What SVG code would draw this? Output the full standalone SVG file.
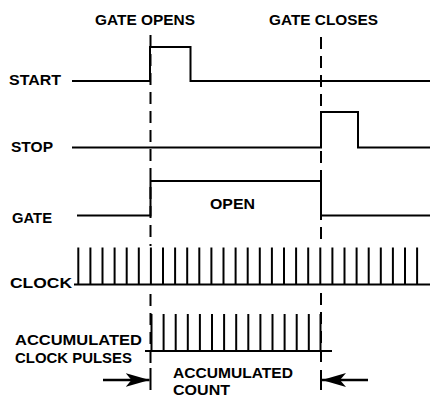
<svg xmlns="http://www.w3.org/2000/svg" width="430" height="399" viewBox="0 0 430 399">
<style>
  .t { font-family: "Liberation Sans", Arial, sans-serif; font-weight: bold; font-size: 15px; fill: #000; }
  .sig { fill: none; stroke: #000; stroke-width: 2; stroke-linejoin: miter; }
  .dash { fill: none; stroke: #000; stroke-width: 2; stroke-dasharray: 12 7; }
  .solid { fill: none; stroke: #000; stroke-width: 2; }
  .arr { fill: none; stroke: #000; stroke-width: 2.5; marker-end: url(#ah); }
</style>
<defs>
  <marker id="ah" viewBox="0 0 24 14" refX="24" refY="7" markerWidth="24" markerHeight="14" markerUnits="userSpaceOnUse" orient="auto">
    <path d="M0,0 L24,7 L0,14 L6,7 Z" fill="#000"/>
  </marker>
  <path id="tick" d="M0,0 V-37" stroke="#000" stroke-width="2"/>
</defs>
<rect width="430" height="399" fill="#fff"/>

<g id="headings">
  <text class="t" x="95" y="25" textLength="100" lengthAdjust="spacingAndGlyphs">GATE OPENS</text>
  <text class="t" x="269" y="25" textLength="109" lengthAdjust="spacingAndGlyphs">GATE CLOSES</text>
</g>

<g id="markers-lines">
  <line class="dash" x1="150.5" y1="35" x2="150.5" y2="246"/>
  <line class="dash" x1="150.5" y1="294" x2="150.5" y2="365"/>
  <line class="solid" x1="150.5" y1="368" x2="150.5" y2="390"/>
  <line class="dash" x1="321" y1="37" x2="321" y2="246"/>
  <line class="dash" x1="321" y1="293" x2="321" y2="367"/>
  <line class="solid" x1="321" y1="370" x2="321" y2="390"/>
</g>

<g id="start">
  <text class="t" x="9" y="85" textLength="52" lengthAdjust="spacingAndGlyphs">START</text>
  <path class="sig" d="M72,81 H150 V47 H190.5 V81 H430"/>
</g>

<g id="stop">
  <text class="t" x="11" y="152" textLength="42" lengthAdjust="spacingAndGlyphs">STOP</text>
  <path class="sig" d="M72,147.5 H321 V112 H358 V147.5 H430"/>
</g>

<g id="gate">
  <text class="t" x="12" y="223" textLength="40" lengthAdjust="spacingAndGlyphs">GATE</text>
  <path class="sig" d="M77,215.5 H150.5 V181 H321 V215.5 H430"/>
  <text class="t" x="210" y="209" textLength="45" lengthAdjust="spacingAndGlyphs">OPEN</text>
</g>

<g id="clock">
  <text class="t" x="10" y="288" textLength="62" lengthAdjust="spacingAndGlyphs">CLOCK</text>
  <line class="solid" x1="74" y1="284.5" x2="430" y2="284.5"/>
  <g transform="translate(0,284.5)">
    <use href="#tick" x="78.3"/><use href="#tick" x="90.4"/><use href="#tick" x="102.5"/><use href="#tick" x="114.6"/>
    <use href="#tick" x="126.7"/><use href="#tick" x="138.8"/><use href="#tick" x="150.9"/><use href="#tick" x="163"/>
    <use href="#tick" x="175.1"/><use href="#tick" x="187.2"/><use href="#tick" x="199.3"/><use href="#tick" x="211.4"/>
    <use href="#tick" x="223.5"/><use href="#tick" x="235.6"/><use href="#tick" x="247.7"/><use href="#tick" x="259.8"/>
    <use href="#tick" x="271.9"/><use href="#tick" x="284"/><use href="#tick" x="296.1"/><use href="#tick" x="308.2"/>
    <use href="#tick" x="320.3"/><use href="#tick" x="332.4"/><use href="#tick" x="344.5"/><use href="#tick" x="356.6"/>
    <use href="#tick" x="368.7"/><use href="#tick" x="380.8"/><use href="#tick" x="392.9"/><use href="#tick" x="405"/>
    <use href="#tick" x="417.1"/>
  </g>
</g>

<g id="accumulated">
  <text class="t" x="15" y="345" textLength="127" lengthAdjust="spacingAndGlyphs">ACCUMULATED</text>
  <text class="t" x="15" y="363" textLength="117" lengthAdjust="spacingAndGlyphs">CLOCK PULSES</text>
  <line class="solid" x1="145" y1="351" x2="332" y2="351"/>
  <g transform="translate(0,351)">
    <use href="#tick" x="151.5"/><use href="#tick" x="163.6"/><use href="#tick" x="175.7"/><use href="#tick" x="187.8"/>
    <use href="#tick" x="199.9"/><use href="#tick" x="212"/><use href="#tick" x="224.1"/><use href="#tick" x="236.2"/>
    <use href="#tick" x="248.3"/><use href="#tick" x="260.4"/><use href="#tick" x="272.5"/><use href="#tick" x="284.6"/>
    <use href="#tick" x="296.7"/><use href="#tick" x="308.8"/><use href="#tick" x="320.5"/>
  </g>
</g>

<g id="connectors">
  <line class="arr" x1="103" y1="380" x2="149.5" y2="380"/>
  <line class="arr" x1="368" y1="380" x2="322" y2="380"/>
</g>

<g id="count">
  <text class="t" x="173" y="378" textLength="120" lengthAdjust="spacingAndGlyphs">ACCUMULATED</text>
  <text class="t" x="173" y="395" textLength="57" lengthAdjust="spacingAndGlyphs">COUNT</text>
</g>
</svg>
